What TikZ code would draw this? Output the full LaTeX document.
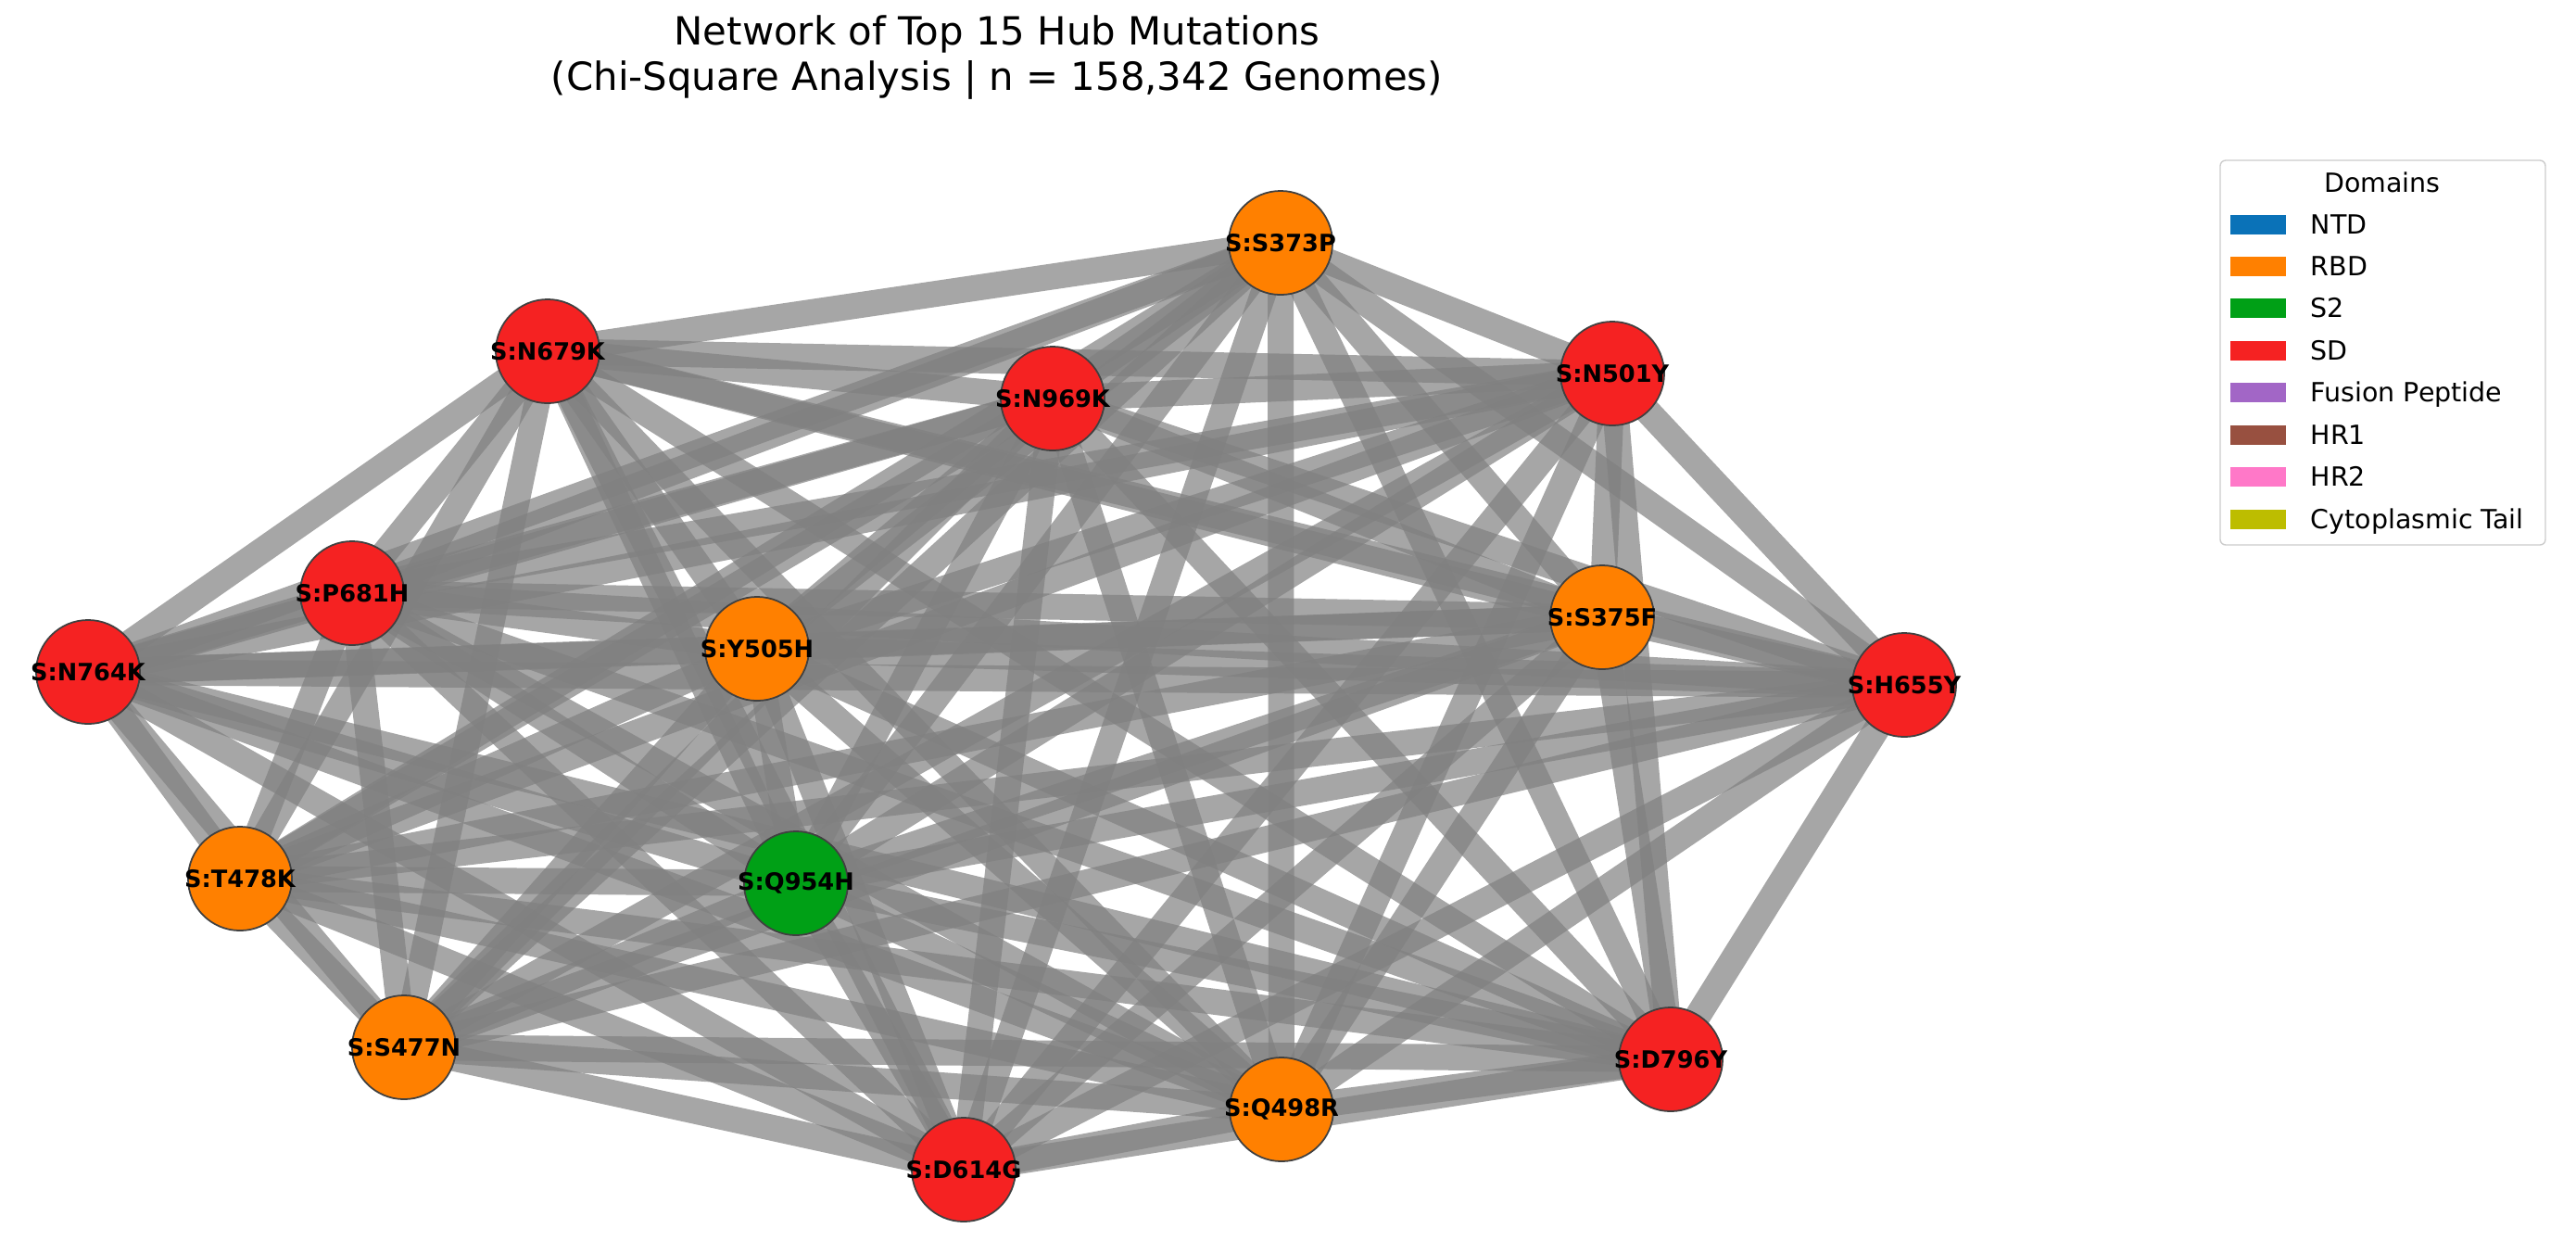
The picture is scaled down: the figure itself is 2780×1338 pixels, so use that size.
\documentclass[tikz,border=0pt]{standalone}
\usepackage{fontspec}
\setmainfont{DejaVu Sans}
\pgfdeclarelayer{bg}
\pgfsetlayers{bg,main}
\definecolor{cR}{HTML}{F52222}
\definecolor{cO}{HTML}{FF8000}
\definecolor{cG}{HTML}{00A016}
\definecolor{cB}{HTML}{0A72B8}
\definecolor{cP}{HTML}{A266C6}
\definecolor{cBr}{HTML}{985040}
\definecolor{cPk}{HTML}{FF78C8}
\definecolor{cOl}{HTML}{BDBD00}
\definecolor{edgegray}{HTML}{808080}
\definecolor{framegray}{HTML}{CCCCCC}
\begin{document}
\begin{tikzpicture}[x=0.01cm,y=-0.01cm,
  mut/.style={circle, draw=black!75, line width=0.5pt, minimum size=1.12cm, inner sep=0pt,
    font=\fontsize{7.3}{8}\selectfont\bfseries},
  edge/.style={draw=edgegray, draw opacity=0.7, line width=0.28cm},
  patch/.style={minimum width=0.6cm, minimum height=0.21cm, inner sep=0pt},
  legtxt/.style={anchor=base west, inner sep=0pt, font=\fontsize{8.1}{9}\selectfont},
  ttl/.style={anchor=base, inner sep=0pt, font=\fontsize{11.9}{14}\selectfont}]
\useasboundingbox (0,0) rectangle (2780,1338);

% title
\node[ttl] (title1) at (1076,48) {Network of Top 15 Hub Mutations};
\node[ttl] (title2) at (1076,97) {(Chi-Square Analysis | n = 158,342 Genomes)};

% mutation nodes
\node[mut, fill=cO] (S373P) at (1382,262) {\makebox[0pt]{S:S373P}};
\node[mut, fill=cR] (N679K) at (591,379) {\makebox[0pt]{S:N679K}};
\node[mut, fill=cR] (N969K) at (1136,430) {\makebox[0pt]{S:N969K}};
\node[mut, fill=cR] (N501Y) at (1740,403) {\makebox[0pt]{S:N501Y}};
\node[mut, fill=cR] (P681H) at (380,640) {\makebox[0pt]{S:P681H}};
\node[mut, fill=cO] (Y505H) at (817,700) {\makebox[0pt]{S:Y505H}};
\node[mut, fill=cO] (S375F) at (1729,666) {\makebox[0pt]{S:S375F}};
\node[mut, fill=cR] (N764K) at (95,725) {\makebox[0pt]{S:N764K}};
\node[mut, fill=cR] (H655Y) at (2055,739) {\makebox[0pt]{S:H655Y}};
\node[mut, fill=cO] (T478K) at (259,948) {\makebox[0pt]{S:T478K}};
\node[mut, fill=cG] (Q954H) at (859,953) {\makebox[0pt]{S:Q954H}};
\node[mut, fill=cO] (S477N) at (436,1130) {\makebox[0pt]{S:S477N}};
\node[mut, fill=cR] (D796Y) at (1803,1143) {\makebox[0pt]{S:D796Y}};
\node[mut, fill=cO] (Q498R) at (1383,1197) {\makebox[0pt]{S:Q498R}};
\node[mut, fill=cR] (D614G) at (1040,1262) {\makebox[0pt]{S:D614G}};

% edges (complete graph) beneath the nodes
\def\nodelist{S373P,N679K,N969K,N501Y,P681H,Y505H,S375F,N764K,H655Y,T478K,Q954H,S477N,D796Y,Q498R,D614G}
\begin{pgfonlayer}{bg}
\foreach \a [count=\i] in \nodelist {
  \foreach \b [count=\j] in \nodelist {
    \ifnum\j>\i\relax \draw[edge] (\a.center) -- (\b.center);\fi
  }
}
\end{pgfonlayer}

% legend
\draw[draw=framegray, line width=0.4pt, fill=white, rounded corners=0.06cm] (2396,173) rectangle (2747,588);
\node[anchor=base, inner sep=0pt, font=\fontsize{8.1}{9}\selectfont] (legtitle) at (2571,207) {Domains};
\foreach \c/\t/\y [count=\k] in {cB/NTD/242, cO/RBD/287, cG/S2/332, cR/SD/378, cP/Fusion Peptide/423, cBr/HR1/469, cPk/HR2/514, cOl/Cytoplasmic Tail/560} {
  \node[patch, fill=\c] (patch\k) at (2437,\y) {};
  \node[legtxt] (leg\k) at (2493,{\y+10}) {\t};
}
\end{tikzpicture}
\end{document}
